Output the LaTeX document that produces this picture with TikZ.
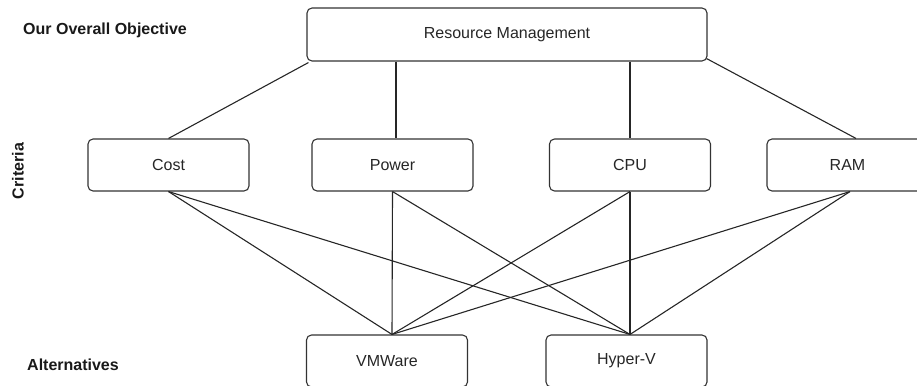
\documentclass[tikz,border=0pt]{standalone}
\usepackage{fontspec}
\setmainfont{Liberation Sans}
\begin{document}
\begin{tikzpicture}[x=1pt,y=-1pt,
  box/.style={draw=black!80, line width=1.1pt, rounded corners=5pt, minimum width=161pt, minimum height=52pt, inner sep=0pt, text=black!85, font=\fontsize{16}{19}\selectfont},
  link/.style={draw=black!85, line width=1.1pt},
  lbl/.style={font=\fontsize{16}{19}\selectfont\bfseries, text=black!90, inner sep=0pt}]
\useasboundingbox (0,0) rectangle (917,385);
\clip (0,0) rectangle (917,385);
\node[box, minimum width=400pt, minimum height=53pt] (rm) at (507,34.5) {Resource Management};
\node[box] (cost) at (168.5,165) {Cost};
\node[box] (power) at (392.5,165) {Power};
\node[box] (cpu) at (630,165) {CPU};
\node[box] (ram) at (847.5,165) {RAM};
\node[box] (vm) at (387,361) {VMWare};
\node[box] (hv) at (626.5,361) {Hyper-V};
\node[lbl, anchor=west] (obj) at (23,30) {Our Overall Objective};
\node[lbl, rotate=90] (crit) at (18,171) {Criteria};
\node[lbl, anchor=west] (alt) at (27,365) {Alternatives};
\coordinate (rmL) at ([xshift=2pt,yshift=-1pt]rm.south west);
\coordinate (rmR) at ([xshift=-1pt,yshift=3pt]rm.south east);
\coordinate (rmP) at (rm.south -| 396,0);
\coordinate (rmC) at (rm.south -| 630,0);
\draw[link] (rmL) -- (cost.north);
\draw[link] (rmP) -- ([xshift=3.5pt]power.north);
\draw[link] (rmC) -- (cpu.north);
\draw[link] (rmR) -- ([xshift=8.5pt]ram.north);
\coordinate (vmT) at ([xshift=5pt]vm.north);
\coordinate (hvT) at ([xshift=3.5pt]hv.north);
\coordinate (ramB) at ([xshift=2.5pt]ram.south);
\foreach \s in {cost.south, power.south, cpu.south, ramB}{
  \draw[link] (\s) -- (vmT);
  \draw[link] (\s) -- (hvT);
}
\end{tikzpicture}
\end{document}
